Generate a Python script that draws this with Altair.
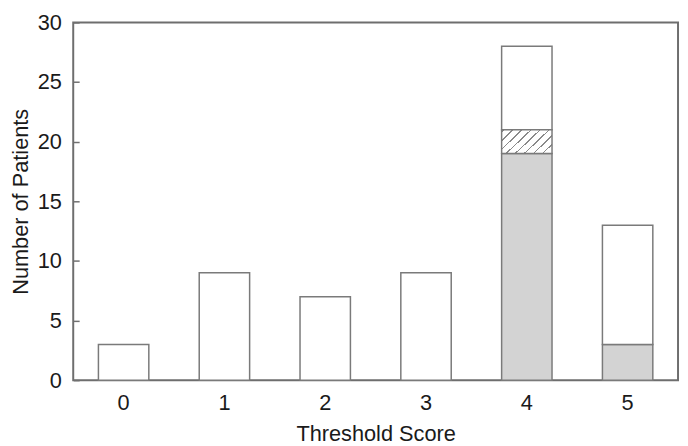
import altair as alt
import pandas as pd

# ---- data ----
scores = ["0", "1", "2", "3", "4", "5"]
gray_counts = [0, 0, 0, 0, 19, 3]
hatch_counts = [0, 0, 0, 0, 2, 0]
white_counts = [3, 9, 7, 9, 7, 10]

rows = []
for s, g, h, w in zip(scores, gray_counts, hatch_counts, white_counts):
    base = 0
    for kind, v in (("gray", g), ("hatch", h), ("white", w)):
        if v > 0:
            rows.append({"score": s, "kind": kind, "start": base, "end": base + v})
        base += v
df = pd.DataFrame(rows)

# diagonal hatch built as a hard-stop linear gradient
period = 0.12
thick = 0.022
stops = []
t = 0.02
stops.append({"offset": 0, "color": "white"})
while t + thick < 1:
    stops.append({"offset": round(t, 4), "color": "white"})
    stops.append({"offset": round(t, 4), "color": "#8a8a8a"})
    stops.append({"offset": round(t + thick, 4), "color": "#8a8a8a"})
    stops.append({"offset": round(t + thick, 4), "color": "white"})
    t += period
stops.append({"offset": 1, "color": "white"})
hatch_fill = {"gradient": "linear", "x1": 0, "y1": 0, "x2": 1.2, "y2": 0.6, "stops": stops}

x_enc = alt.X(
    "score:N",
    sort=scores,
    scale=alt.Scale(domain=scores, paddingInner=0.5, paddingOuter=0.25),
    axis=alt.Axis(
        title="Threshold Score",
        labelAngle=0,
        ticks=False,
        domain=False,
        labelPadding=13,
        titlePadding=10,
    ),
)
y_enc = alt.Y(
    "start:Q",
    scale=alt.Scale(domain=[0, 30], nice=False),
    axis=alt.Axis(
        title="Number of Patients",
        values=[0, 5, 10, 15, 20, 25, 30],
        grid=False,
        domain=False,
        offset=-6,
        tickSize=6,
        tickColor="#707070",
        tickWidth=1.5,
        labelPadding=12,
        titlePadding=5,
    ),
)

base = alt.Chart(df).encode(x=x_enc, y=y_enc, y2="end:Q")

gray = base.transform_filter(alt.datum.kind == "gray").mark_bar(
    fill="#d3d3d3", stroke="#7a7a7a", strokeWidth=1.5
)
white = base.transform_filter(alt.datum.kind == "white").mark_bar(
    fill="white", stroke="#7a7a7a", strokeWidth=1.5
)
hatch = base.transform_filter(alt.datum.kind == "hatch").mark_bar(
    fill=hatch_fill, stroke="#7a7a7a", strokeWidth=1.5
)

chart = (
    alt.layer(gray, white, hatch)
    .properties(
        width=612,
        height=362,
        background="white",
        autosize=alt.AutoSizeParams(type="none"),
        padding={"left": 66, "top": 12, "right": 2, "bottom": 64},
    )
    .configure_view(stroke="#6e6e6e", strokeWidth=2)
    .configure_axis(
        labelFont="Liberation Sans",
        titleFont="Liberation Sans",
        labelFontSize=22,
        titleFontSize=22,
        titleFontWeight="normal",
        labelColor="#1a1a1a",
        titleColor="#1a1a1a",
    )
)

chart.save("out.html", embed_options={"renderer": "svg", "actions": False})
